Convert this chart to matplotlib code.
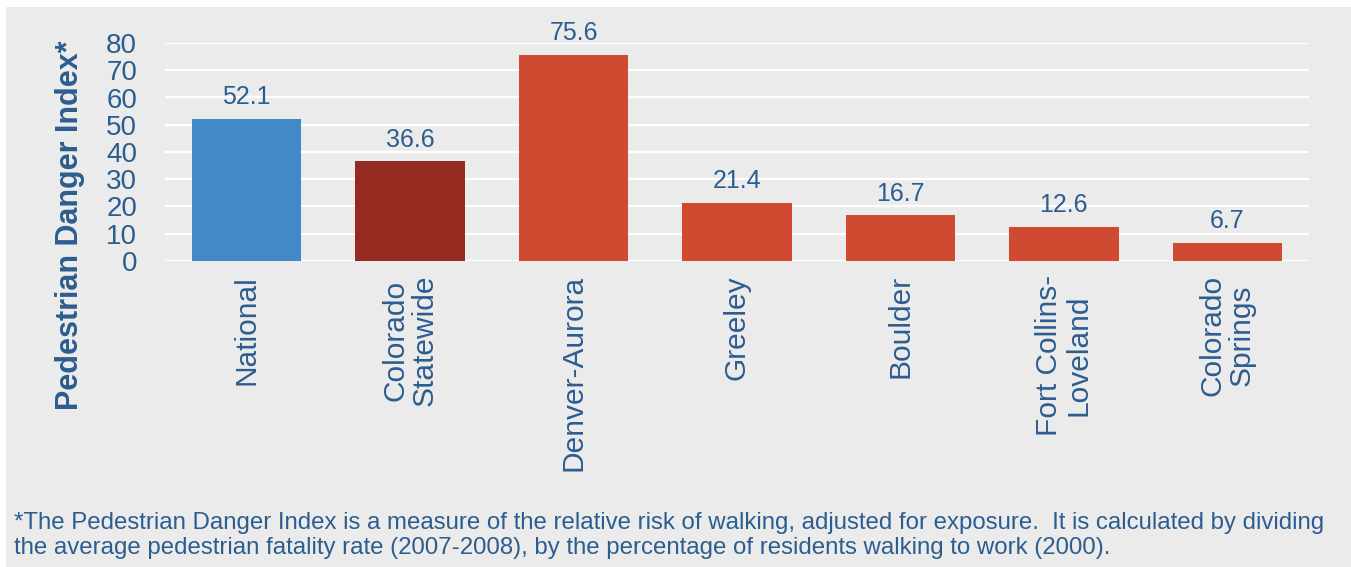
import matplotlib
matplotlib.use("Agg")
import matplotlib.pyplot as plt
from matplotlib.patches import Rectangle

# ---------------------------------------------------------------------------
# Data
# ---------------------------------------------------------------------------
categories = ["National", "Colorado\nStatewide", "Denver-Aurora", "Greeley",
              "Boulder", "Fort Collins-\nLoveland", "Colorado\nSprings"]
values     = [52.1, 36.6, 75.6, 21.4, 16.7, 12.6, 6.7]
bar_colors = ["#4189C7", "#952B20", "#D04A31", "#D04A31",
              "#D04A31", "#D04A31", "#D04A31"]
yticks     = [0, 10, 20, 30, 40, 50, 60, 70, 80]

TEXT  = "#2C5D8F"
PANEL = "#EBEBEB"
FOOTNOTE = ("*The Pedestrian Danger Index is a measure of the relative risk of walking, "
            "adjusted for exposure.  It is calculated by dividing\n"
            "the average pedestrian fatality rate (2007-2008), by the percentage of "
            "residents walking to work (2000).")

plt.rcParams["font.family"] = ["Liberation Sans", "DejaVu Sans"]

W, H = 1351, 567
fig = plt.figure(figsize=(W / 100, H / 100), dpi=100)
fig.patch.set_facecolor("white")

# grey panel behind everything
fig.patches.append(Rectangle((6 / W, 0), 1 - 6 / W, 1 - 7 / H,
                             transform=fig.transFigure, facecolor=PANEL,
                             edgecolor="none", zorder=-10))

ax = fig.add_axes([165 / W, 1 - 261 / H, (1309 - 165) / W, (261 - 43) / H])
ax.patch.set_alpha(0)

x = range(len(categories))
bars = ax.bar(x, values, width=0.67, color=bar_colors, zorder=3)

for b, v in zip(bars, values):
    ax.annotate(f"{v}", (b.get_x() + b.get_width() / 2, v),
                xytext=(0, 7), textcoords="offset points",
                ha="center", va="bottom", fontsize=18, color=TEXT)

ax.set_xlim(-0.5, len(categories) - 0.5)
ax.set_ylim(0, 80)
ax.set_yticks(yticks)
ax.set_xticks(list(x))
ax.set_xticklabels(categories, rotation=90, ha="center", va="top",
                   multialignment="center", linespacing=1.05)
ax.tick_params(axis="y", length=0, pad=20, labelsize=20, labelcolor=TEXT)
ax.tick_params(axis="x", length=0, pad=10, labelsize=21.5, labelcolor=TEXT)
ax.grid(axis="y", color="white", lw=1.6, zorder=0)
ax.set_axisbelow(True)
for s in ax.spines.values():
    s.set_visible(False)

fig.text(70 / W, 1 - 225 / H, "Pedestrian Danger Index*", rotation=90,
         ha="center", va="center", fontsize=22, fontweight="bold", color=TEXT)

fig.text(14 / W, 1 - 512 / H, FOOTNOTE, ha="left", va="top",
         fontsize=17.3, color=TEXT, linespacing=1.18)

fig.savefig("out.png", dpi=100, facecolor=fig.get_facecolor())
